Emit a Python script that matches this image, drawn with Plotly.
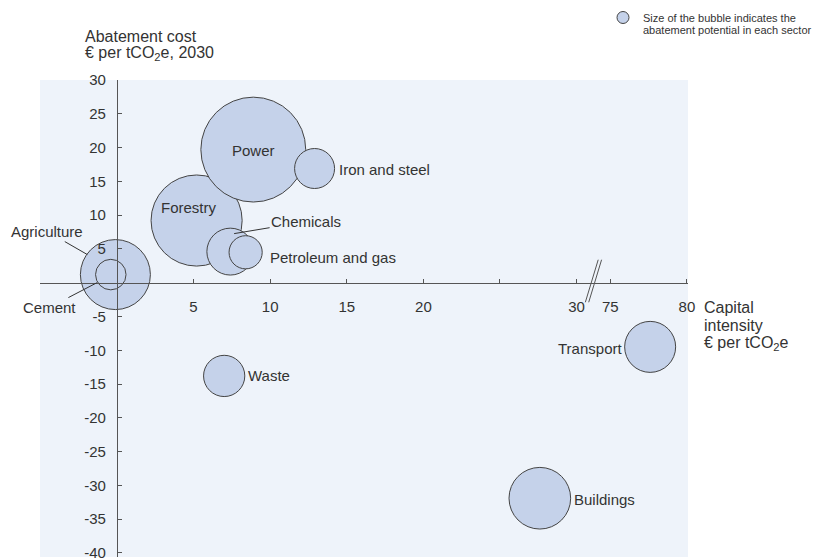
import plotly.graph_objects as go

# ---------------- data ----------------
sectors = ["Agriculture", "Cement", "Forestry", "Power", "Iron and steel",
           "Chemicals", "Petroleum and gas", "Waste", "Buildings", "Transport"]
capital_intensity = [-0.1, -0.4, 5.2, 8.9, 12.9, 7.4, 8.4, 7.0, 27.6, 77.6]   # € per tCO2e
abatement_cost = [1.2, 1.2, 9.2, 19.7, 16.9, 4.6, 4.5, -13.8, -31.9, -9.5]      # € per tCO2e, 2030
abatement_potential = [49, 9.3, 83, 110, 16, 22, 11, 17, 38, 26]                # relative bubble area

x_tick_values = [5, 10, 15, 20, 30, 75, 80]
x_tick_labels = ["5", "10", "15", "20", "30", "75", "80"]
x_minor_ticks = [-5, 25]
y_tick_values = [30, 25, 20, 15, 10, 5, -5, -10, -15, -20, -25, -30, -35, -40]
y_tick_labels = [str(v) for v in y_tick_values]

# broken x axis: values above BREAK_LOW are pulled left so 75 sits just after 30
BREAK_LOW, BREAK_HIGH, BREAK_GAP = 30, 75, 2.2
SHIFT = BREAK_HIGH - (BREAK_LOW + BREAK_GAP)


def to_axis(v):
    return v if v <= BREAK_LOW else v - SHIFT


px_x = [to_axis(v) for v in capital_intensity]
tick_x = [to_axis(v) for v in x_tick_values]

FONT = "Liberation Sans, Arial, Helvetica, sans-serif"
TXT = "#333333"
AX = "#555555"
FILL = "#C5D2EA"
BG = "#EEF3FA"

X_RANGE = [-5.02, 37.27]
Y_RANGE = [-40.6, 30]

fig = go.Figure()
fig.add_trace(go.Scatter(
    x=px_x, y=abatement_cost, mode="markers", text=sectors,
    marker=dict(size=abatement_potential, sizemode="area", sizeref=0.02,
                color=FILL, opacity=1, line=dict(color="#444444", width=1)),
    hoverinfo="text", showlegend=False,
))

# label placement: (xshift, yshift, xanchor) in pixels from bubble centre
label_pos = {
    "Forestry": (-8, 13, "center"),
    "Power": (0, -1, "center"),
    "Iron and steel": (22, -1, "left"),
    "Petroleum and gas": (22, -5, "left"),
    "Waste": (22, 0, "left"),
    "Buildings": (32, -1, "left"),
    "Transport": (-26, -2, "right"),
}
# leader-line labels: (tip xshift, tip yshift, ax, ay)
leader_pos = {
    "Agriculture": (-28, 20, -40, -23),
    "Cement": (-13.6, -8, -48, 25),
    "Chemicals": (3.8, 18, 72, -12),
}

for s, xv, yv in zip(sectors, px_x, abatement_cost):
    if s in label_pos:
        dx, dy, anc = label_pos[s]
        fig.add_annotation(x=xv, y=yv, xref="x", yref="y", text=s, showarrow=False,
                           xshift=dx, yshift=dy, xanchor=anc, yanchor="middle",
                           font=dict(family=FONT, size=15, color=TXT))
    else:
        dx, dy, ax, ay = leader_pos[s]
        fig.add_annotation(x=xv, y=yv, xref="x", yref="y", text=s, showarrow=True,
                           arrowhead=0, arrowwidth=1, arrowcolor=TXT, standoff=0,
                           xshift=dx, yshift=dy, ax=ax, ay=ay,
                           font=dict(family=FONT, size=15, color=TXT))

# axis titles
fig.add_annotation(xref="paper", yref="paper", x=0, y=1, xanchor="left", yanchor="middle",
                   xshift=43, yshift=44, text="Abatement cost", showarrow=False,
                   font=dict(family=FONT, size=16, color=TXT))
fig.add_annotation(xref="paper", yref="paper", x=0, y=1, xanchor="left", yanchor="middle",
                   xshift=43, yshift=27, text="€ per tCO<sub>2</sub>e, 2030", showarrow=False,
                   font=dict(family=FONT, size=16, color=TXT))
for i, t in enumerate(["Capital", "intensity", "€ per tCO<sub>2</sub>e"]):
    fig.add_annotation(xref="paper", yref="y", x=1, y=0, xanchor="left", yanchor="middle",
                       xshift=14, yshift=-25 - 18 * i, text=t, showarrow=False,
                       font=dict(family=FONT, size=16, color=TXT))

# bubble-size key
fig.add_shape(type="circle", xref="paper", yref="paper", xsizemode="pixel", ysizemode="pixel",
              xanchor=1, yanchor=1, x0=-71, x1=-59, y0=56.5, y1=68.5,
              fillcolor=FILL, line=dict(color="#444444", width=1))
fig.add_annotation(xref="paper", yref="paper", x=1, y=1, xanchor="left", yanchor="middle",
                   xshift=-47, yshift=62, text="Size of the bubble indicates the", showarrow=False,
                   font=dict(family=FONT, size=11, color=TXT))
fig.add_annotation(xref="paper", yref="paper", x=1, y=1, xanchor="left", yanchor="middle",
                   xshift=-47, yshift=50, text="abatement potential in each sector", showarrow=False,
                   font=dict(family=FONT, size=11, color=TXT))

# axis break marks
bx = (BREAK_LOW + BREAK_LOW + BREAK_GAP) / 2
for off in (-0.11, 0.11):
    fig.add_shape(type="line", xref="x", yref="y",
                  x0=bx - 0.42 + off, y0=-2.9, x1=bx + 0.42 + off, y1=3.4,
                  line=dict(color=AX, width=1))

x_pos = (0 - Y_RANGE[0]) / (Y_RANGE[1] - Y_RANGE[0])
y_pos = (0 - X_RANGE[0]) / (X_RANGE[1] - X_RANGE[0])

fig.update_layout(
    width=814, height=558,
    margin=dict(l=40, r=126, t=80, b=1, autoexpand=False),
    paper_bgcolor="white", plot_bgcolor=BG,
    font=dict(family=FONT, size=15, color=TXT),
    xaxis=dict(range=X_RANGE, tickmode="array", tickvals=tick_x, ticktext=x_tick_labels,
               anchor="free", position=x_pos, showline=True, linecolor=AX, linewidth=1,
               ticks="inside", ticklen=4, tickcolor=AX, showgrid=False, zeroline=False,
               minor=dict(tickmode="array", tickvals=x_minor_ticks, ticks="inside",
                          ticklen=4, tickcolor=AX, showgrid=False),
               ticklabelstandoff=10, ticklabeloverflow="allow", automargin=False,
               tickfont=dict(family=FONT, size=15, color=TXT)),
    yaxis=dict(range=Y_RANGE, tickvals=y_tick_values, ticktext=y_tick_labels,
               anchor="free", position=y_pos, showline=True, linecolor=AX, linewidth=1,
               ticks="inside", ticklen=4, tickcolor=AX, showgrid=False, zeroline=False,
               ticklabelstandoff=8, ticklabeloverflow="allow", automargin=False,
               tickfont=dict(family=FONT, size=15, color=TXT)),
)

fig.write_html("out.html", config={"displayModeBar": False},
               post_script="document.body.style.margin='0';")
